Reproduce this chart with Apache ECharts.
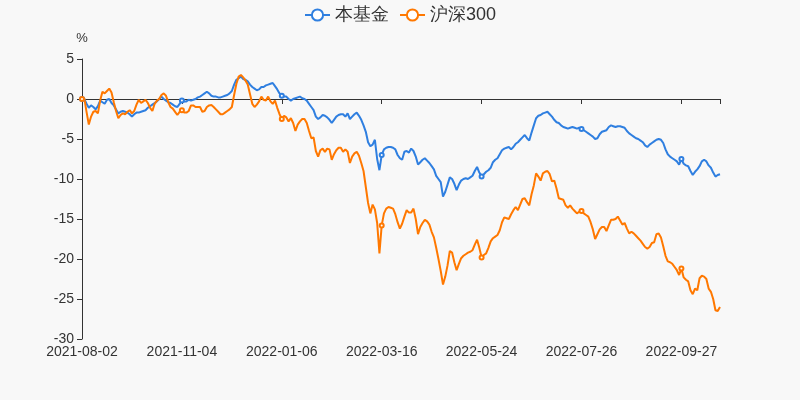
<!DOCTYPE html>
<html>
<head>
<meta charset="utf-8">
<script src="https://cdn.jsdelivr.net/npm/echarts@6/dist/echarts.min.js"></script>
<style>html,body{margin:0;padding:0;background:#f8f8f8}#c{width:800px;height:400px}</style>
</head>
<body>
<div id="c"></div>
<script>
// Dates: early period (sparse), then trading days
const earlyDates = [
  '2021-08-02','2021-08-04','2021-08-06','2021-08-09','2021-08-11','2021-08-13','2021-08-16','2021-08-18','2021-08-20','2021-08-23',
  '2021-08-25','2021-08-27','2021-08-30','2021-09-01','2021-09-03','2021-09-06','2021-09-08','2021-09-10','2021-09-13','2021-09-15',
  '2021-09-17','2021-09-22','2021-09-24','2021-09-27','2021-09-29','2021-10-08','2021-10-11','2021-10-12','2021-10-13','2021-10-14',
  '2021-10-15','2021-10-18','2021-10-19','2021-10-20','2021-10-21','2021-10-22','2021-10-25','2021-10-26','2021-10-27','2021-10-28',
  '2021-10-29','2021-11-01','2021-11-02','2021-11-03'
];
const tradingStart = '2021-11-04';
const tradingEnd = '2022-10-27';
const holidays = ['2022-01-03','2022-01-31','2022-02-01','2022-02-02','2022-02-03','2022-02-04',
  '2022-04-04','2022-04-05','2022-05-02','2022-05-03','2022-05-04','2022-06-03','2022-09-12',
  '2022-10-03','2022-10-04','2022-10-05','2022-10-06','2022-10-07'];

const fund = [
  0.0,0.0,-0.6,-1.1,-0.8,-1.0,-1.3,-0.9,-0.2,-0.4,
  -0.6,-0.1,0.0,-0.5,-0.8,-1.3,-1.8,-1.6,-1.5,-1.6,
  -1.7,-1.9,-2.2,-1.9,-1.7,-1.7,-1.6,-1.5,-1.4,-1.1,
  -0.9,-0.7,-0.5,-0.3,0.0,0.3,0.0,-0.2,-0.4,-0.5,
  -0.7,-0.9,-1.0,-0.6,-0.2,-0.3,-0.3,-0.1,-0.2,-0.1,
  0.0,0.2,0.3,0.5,0.7,0.9,0.7,0.4,0.3,0.3,
  0.2,0.2,0.3,0.4,0.5,0.7,1.0,1.8,2.4,2.6,
  2.8,2.5,2.4,2.2,1.8,1.5,1.3,1.1,1.2,1.5,
  1.5,1.7,1.8,1.9,2.0,1.6,1.2,0.7,0.4,0.3,
  0.3,0.0,-0.2,0.0,0.1,0.2,0.3,0.1,0.0,-0.2,
  -0.6,-1.0,-1.4,-2.2,-2.5,-2.3,-2.0,-2.1,-2.3,-2.6,
  -3.0,-2.6,-2.2,-2.0,-1.9,-1.9,-2.2,-1.8,-2.5,-2.2,
  -1.9,-1.7,-2.1,-2.6,-3.3,-4.1,-5.4,-5.9,-5.7,-5.1,
  -7.5,-8.9,-7.0,-6.3,-6.1,-6.0,-6.0,-6.1,-6.3,-7.0,
  -7.4,-7.6,-6.6,-6.5,-6.7,-6.2,-6.5,-7.2,-8.2,-7.9,
  -7.6,-7.4,-7.7,-8.0,-8.4,-8.8,-9.6,-10.0,-10.4,-12.2,
  -11.6,-10.7,-9.8,-10.0,-10.6,-11.4,-10.7,-10.2,-10.0,-9.9,
  -10.0,-9.8,-9.6,-9.0,-8.5,-9.2,-9.7,-9.4,-9.1,-8.9,
  -8.6,-7.9,-7.6,-7.4,-6.9,-6.4,-6.2,-6.1,-6.0,-6.3,
  -6.0,-5.6,-5.4,-5.1,-4.8,-4.5,-4.9,-5.2,-4.2,-3.3,
  -2.4,-2.1,-2.0,-1.8,-1.7,-1.6,-1.9,-2.2,-2.6,-2.9,
  -3.0,-3.3,-3.5,-3.6,-3.7,-3.6,-3.5,-3.6,-3.7,-3.6,
  -3.75,-3.9,-4.1,-4.3,-4.5,-4.7,-5.0,-4.9,-4.4,-4.1,
  -4.0,-3.9,-3.5,-3.3,-3.4,-3.5,-3.4,-3.4,-3.5,-3.6,
  -4.0,-4.3,-4.5,-4.7,-4.9,-5.0,-5.2,-5.4,-5.8,-6.0,
  -5.7,-5.5,-5.3,-5.1,-5.0,-5.1,-5.5,-6.3,-6.9,-7.2,
  -7.4,-7.6,-7.8,-8.2,-7.5,-8.1,-8.3,-8.4,-9.0,-9.5,
  -9.1,-8.8,-8.4,-7.8,-7.6,-7.8,-8.3,-8.6,-9.2,-9.7,
  -9.5,-9.4
];

const hs300 = [
  0.0,0.1,-1.6,-3.2,-2.2,-1.6,-1.5,-1.8,-0.2,0.9,
  0.7,1.0,1.3,0.8,-0.4,-1.5,-2.4,-2.0,-1.8,-1.9,
  -1.6,-1.4,-1.8,-1.5,-0.7,-0.1,-0.5,-0.3,-0.1,-0.5,
  -1.1,-1.5,-0.6,-0.2,0.0,0.5,0.7,0.4,-0.4,-1.0,
  -1.2,-1.6,-2.0,-1.6,-1.4,-1.7,-1.7,-1.5,-0.8,-0.8,
  -1.0,-1.0,-1.0,-1.6,-1.5,-1.0,-0.8,-0.75,-1.0,-1.3,
  -1.6,-1.9,-1.9,-1.7,-1.5,-1.3,-1.0,0.5,1.9,2.8,
  3.0,2.7,2.3,1.8,0.6,-0.6,-1.0,-0.7,-0.3,0.3,
  -0.1,-0.2,0.3,-0.3,-0.6,-0.2,-1.1,-1.9,-2.5,-2.1,
  -2.3,-2.8,-2.4,-3.0,-4.0,-3.2,-2.8,-2.5,-2.5,-3.0,
  -4.0,-4.9,-4.8,-6.5,-7.2,-6.4,-6.2,-6.6,-6.2,-6.3,
  -7.6,-6.9,-6.4,-6.1,-6.1,-6.6,-6.3,-6.6,-8.0,-7.2,
  -6.8,-6.6,-7.1,-8.0,-9.0,-11.0,-13.0,-14.3,-13.2,-13.8,
  -15.5,-19.3,-15.8,-14.3,-13.7,-13.5,-13.6,-13.7,-14.4,-15.4,
  -16.2,-15.6,-14.7,-13.9,-14.2,-14.2,-13.7,-15.0,-16.9,-16.0,
  -15.5,-15.1,-15.3,-15.7,-16.6,-17.3,-18.6,-20.0,-21.5,-23.2,
  -22.2,-20.8,-19.0,-19.2,-20.4,-21.4,-20.6,-19.9,-19.6,-19.4,
  -19.2,-19.1,-18.9,-18.2,-17.6,-18.6,-19.8,-19.5,-19.3,-18.6,
  -17.8,-17.4,-17.2,-17.0,-16.4,-15.4,-14.8,-14.9,-15.0,-14.4,
  -13.9,-13.5,-13.9,-13.2,-12.5,-12.4,-12.9,-13.3,-11.9,-10.8,
  -9.3,-9.7,-10.2,-9.3,-9.1,-9.0,-9.4,-10.3,-10.2,-11.2,
  -12.4,-12.5,-12.6,-13.3,-13.6,-13.3,-13.7,-14.0,-14.3,-14.1,
  -14.0,-14.3,-14.5,-14.7,-15.4,-16.3,-17.5,-16.9,-16.3,-16.0,
  -16.0,-16.5,-15.8,-15.1,-15.1,-15.0,-14.7,-15.2,-15.7,-15.5,
  -16.2,-16.8,-16.6,-16.8,-17.1,-17.4,-17.7,-18.1,-18.5,-18.7,
  -18.5,-18.0,-17.9,-16.9,-16.8,-17.3,-18.4,-19.6,-20.3,-20.4,
  -20.6,-21.0,-21.4,-22.0,-21.2,-22.3,-22.6,-22.8,-23.9,-24.4,
  -23.7,-23.9,-22.4,-22.1,-22.2,-22.5,-23.7,-24.1,-25.0,-26.4,
  -26.5,-26.0
];

const seriesNames = ['本基金', '沪深300'];
const yTicks = [5, 0, -5, -10, -15, -20, -25, -30];

function buildDates() {
  const out = earlyDates.slice();
  const d = new Date(tradingStart + 'T00:00:00Z');
  const end = new Date(tradingEnd + 'T00:00:00Z');
  while (d <= end) {
    const s = d.toISOString().slice(0, 10);
    const wd = d.getUTCDay();
    if (wd !== 0 && wd !== 6 && holidays.indexOf(s) < 0) out.push(s);
    d.setUTCDate(d.getUTCDate() + 1);
  }
  return out;
}
const dates = buildDates();
const N = dates.length;
const labelStep = 44;

const chart = echarts.init(document.getElementById('c'), null, {renderer: 'canvas'});
chart.setOption({
  backgroundColor: '#f8f8f8',
  animation: false,
  color: ['#2f7fe0', '#ff7800'],
  legend: {
    top: 1,
    left: 'center',
    itemWidth: 25,
    itemHeight: 14,
    itemGap: 10,
    textStyle: {fontSize: 18, color: '#333'},
    data: seriesNames
  },
  grid: {left: 82, right: 80, top: 59, bottom: 61, containLabel: false},
  xAxis: [{
    type: 'category',
    data: dates,
    boundaryGap: false,
    axisLine: {show: false, onZero: false},
    axisTick: {show: false},
    axisLabel: {interval: labelStep - 1, color: '#333', fontSize: 14, margin: 6}
  }, {
    type: 'category',
    data: dates,
    boundaryGap: false,
    position: 'bottom',
    axisLine: {show: true, onZero: true, lineStyle: {color: '#333'}},
    axisTick: {show: true, length: 5, lineStyle: {color: '#333'},
      interval: function (idx) { return idx % labelStep === 0 || idx === N - 1; }},
    axisLabel: {show: false}
  }],
  yAxis: {
    type: 'value',
    name: '%',
    nameGap: 14,
    nameTextStyle: {color: '#333', fontSize: 13},
    min: yTicks[yTicks.length - 1],
    max: yTicks[0],
    interval: 5,
    axisLine: {show: true, lineStyle: {color: '#333'}},
    axisTick: {show: true, length: 5, lineStyle: {color: '#333'}},
    axisLabel: {color: '#333', fontSize: 14, margin: 8},
    splitLine: {show: false}
  },
  series: [{
    name: seriesNames[0],
    type: 'line',
    data: fund,
    symbol: 'emptyCircle',
    symbolSize: 4,
    itemStyle: {borderWidth: 1},
    lineStyle: {width: 2}
  }, {
    name: seriesNames[1],
    type: 'line',
    data: hs300,
    symbol: 'emptyCircle',
    symbolSize: 4,
    itemStyle: {borderWidth: 1},
    lineStyle: {width: 2}
  }]
});
</script>
</body>
</html>
